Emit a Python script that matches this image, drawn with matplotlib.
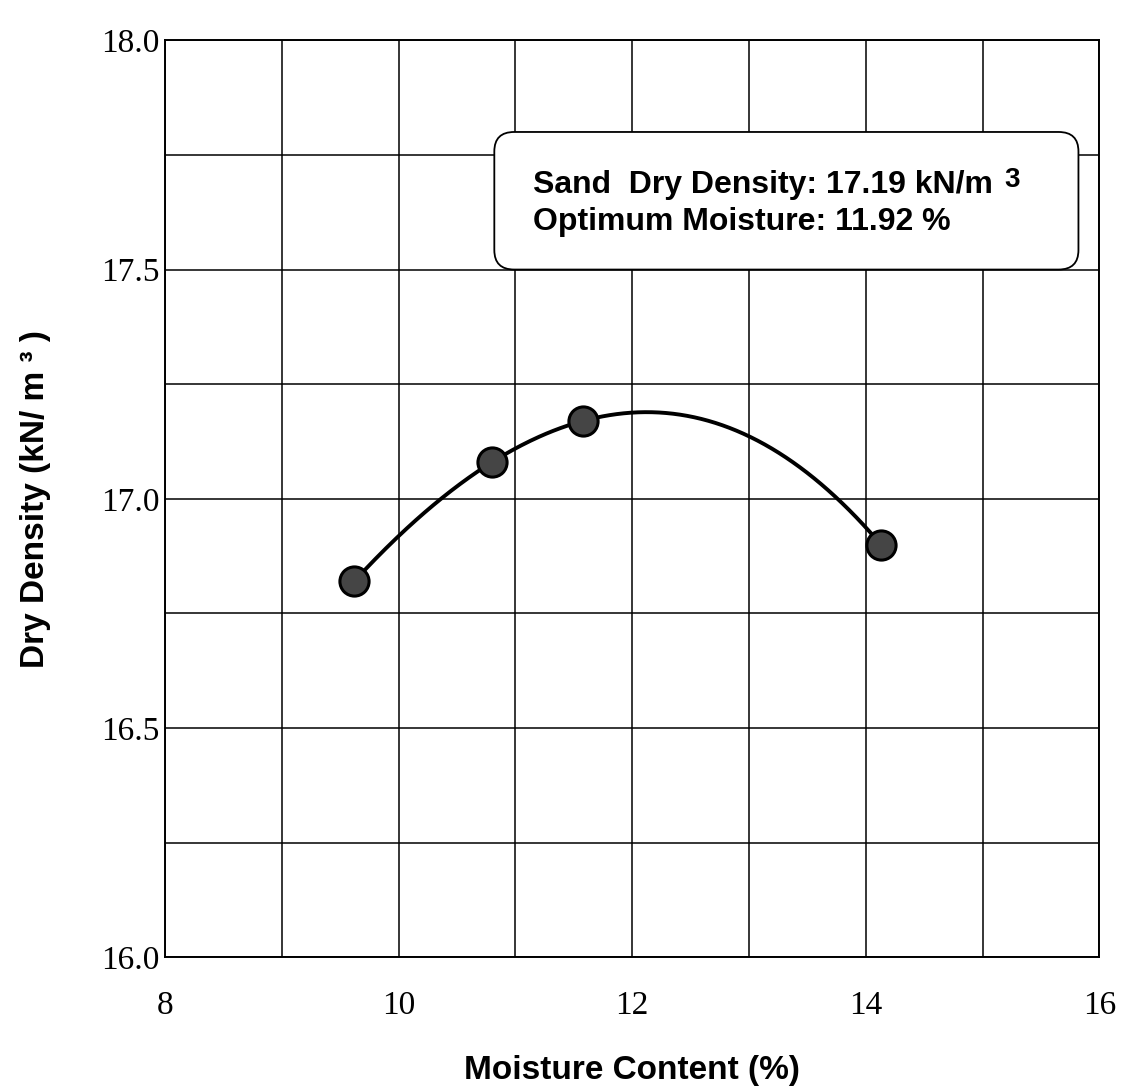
import numpy as np
import matplotlib
matplotlib.use("Agg")
import matplotlib.pyplot as plt
from matplotlib.patches import FancyBboxPatch
from matplotlib.ticker import MultipleLocator, FixedLocator

# Data
moisture = [9.62, 10.80, 11.58, 14.13]
density = [16.82, 17.08, 17.17, 16.90]
xticks = [8, 10, 12, 14, 16]
yticks = [16.0, 16.5, 17.0, 17.5, 18.0]
box_lines = ["Sand  Dry Density: 17.19 kN/m", "Optimum Moisture: 11.92 %"]
box_sup = "3"

fig = plt.figure(figsize=(11.37, 10.88), dpi=100)
ax = fig.add_axes([0.145, 0.12, 0.822, 0.843])

# fitted smooth curve through the points
coef = np.polyfit(moisture, density, 3)
xs = np.linspace(min(moisture), max(moisture), 300)
ax.plot(xs, np.polyval(coef, xs), color='black', lw=2.8, zorder=3)
ax.plot(moisture, density, 'o', ms=21, mfc='#454545', mec='black', mew=2.2, zorder=4)

ax.set_xlim(8, 16)
ax.set_ylim(16.0, 18.0)
ax.xaxis.set_major_locator(FixedLocator(xticks))
ax.yaxis.set_major_locator(FixedLocator(yticks))
ax.xaxis.set_minor_locator(MultipleLocator(1))
ax.yaxis.set_minor_locator(MultipleLocator(0.25))
ax.set_xticklabels([str(t) for t in xticks])
ax.set_yticklabels([f"{t:.1f}" for t in yticks])
ax.grid(True, which='both', color='black', lw=1.1)
ax.set_axisbelow(True)
ax.tick_params(which='both', length=0)
ax.tick_params(axis='x', pad=24)
ax.tick_params(axis='y', pad=4)
for lbl in ax.get_xticklabels() + ax.get_yticklabels():
    lbl.set_fontfamily('Liberation Serif')
    lbl.set_fontsize(24)
for s in ax.spines.values():
    s.set_linewidth(1.4)

ax.set_xlabel("Moisture Content (%)", family='Liberation Sans', weight='bold',
              fontsize=24, labelpad=24)
ax.set_ylabel("Dry Density (kN/ m ³ )", family='Liberation Sans', weight='bold',
              fontsize=24, labelpad=36)

box = FancyBboxPatch((10.82, 17.5), 5.0, 0.3,
                     boxstyle="round,pad=0,rounding_size=0.17",
                     mutation_aspect=0.25,
                     fc='white', ec='black', lw=1.3, zorder=5)
ax.add_patch(box)
t = ax.text(11.15, 17.645, "\n".join(box_lines), family='Liberation Sans', weight='bold',
            fontsize=23, ha='left', va='center', linespacing=1.3, zorder=6)
ax.annotate(box_sup, xy=(1, 1), xycoords=t, xytext=(8, 2), textcoords='offset points',
            ha='left', va='top', family='Liberation Sans', weight='bold', fontsize=20,
            zorder=6)

fig.savefig("out.png", dpi=100)
